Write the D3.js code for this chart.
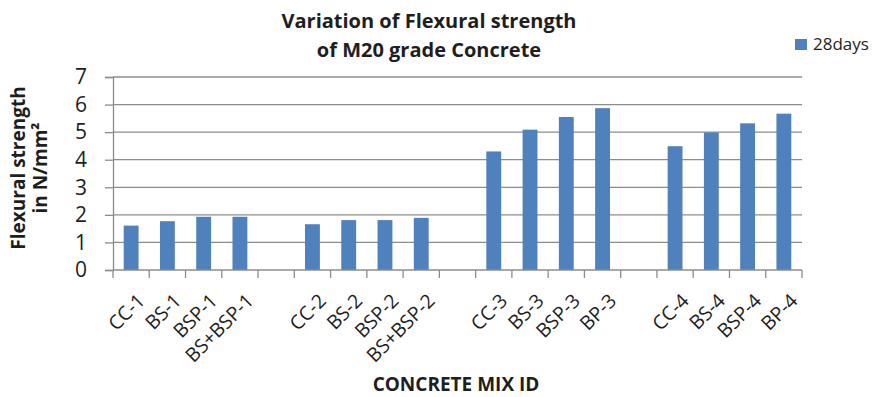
<!DOCTYPE html>
<html>
<head>
<meta charset="utf-8">
<script src="https://cdn.jsdelivr.net/npm/d3@7"></script>
<style>
  body { margin: 0; background: #fff; }
  svg { font-family: "Open Sans", "Noto Sans", sans-serif; }
</style>
</head>
<body>
<svg id="chart" width="883" height="397"></svg>
<script>
// categories along the x axis, "" = empty slot between groups
const categories = ['CC-1', 'BS-1', 'BSP-1', 'BS+BSP-1', '',
                    'CC-2', 'BS-2', 'BSP-2', 'BS+BSP-2', '',
                    'CC-3', 'BS-3', 'BSP-3', 'BP-3', '',
                    'CC-4', 'BS-4', 'BSP-4', 'BP-4'];
// 28 days flexural strength (N/mm2), null for the empty slots
const days28 = [1.61, 1.77, 1.93, 1.93, null,
                1.66, 1.81, 1.81, 1.89, null,
                4.30, 5.09, 5.55, 5.87, null,
                4.49, 4.99, 5.32, 5.67];
const yTicks = [0, 1, 2, 3, 4, 5, 6, 7];
const seriesName = '28days';

const svg = d3.select('#chart');
const margin = {left: 113, right: 81, top: 77, bottom: 127};
const W = 883, H = 397;
const barColor = '#4f81bd';
const gridColor = '#8c8c8c';
const textColor = '#1e1e1e';

let x = d3.scaleBand()
    .domain(d3.range(categories.length))
    .range([margin.left, W - margin.right])
    .paddingInner(0.59)
    .paddingOuter(0.295);
let y = d3.scaleLinear()
    .domain([0, 7])
    .range([H - margin.bottom, margin.top]);

//网格线
svg.append('g')
    .selectAll('line')
    .data(yTicks.slice(1))
    .enter()
    .append('line')
    .attr('x1', margin.left)
    .attr('x2', W - margin.right)
    .attr('y1', d => y(d))
    .attr('y2', d => y(d))
    .attr('stroke', gridColor)
    .attr('stroke-width', 1.3);

//y轴
let yAxis = svg.append('g')
    .attr('transform', `translate(${margin.left},0)`)
    .call(d3.axisLeft(y).tickValues(yTicks).tickFormat(d3.format('d')).tickSize(8).tickPadding(18));
yAxis.select('.domain').attr('stroke', gridColor).attr('stroke-width', 1.3);
yAxis.selectAll('.tick line').attr('stroke', gridColor).attr('stroke-width', 1.3);
yAxis.selectAll('.tick text')
    .attr('font-size', 21)
    .attr('fill', textColor)
    .attr('font-family', '"Open Sans", sans-serif');

//柱子
svg.append('g')
    .selectAll('rect')
    .data(days28.map((v, i) => [i, v]).filter(d => d[1] !== null))
    .enter()
    .append('rect')
    .attr('x', d => x(d[0]))
    .attr('y', d => y(d[1]))
    .attr('width', x.bandwidth())
    .attr('height', d => y(0) - y(d[1]))
    .attr('fill', barColor);

//x轴 (ticks between categories)
let step = x.step();
let x0 = x.range()[0];
svg.append('line')
    .attr('x1', margin.left).attr('x2', W - margin.right)
    .attr('y1', y(0)).attr('y2', y(0))
    .attr('stroke', gridColor).attr('stroke-width', 1.3);
svg.append('g')
    .selectAll('line')
    .data(d3.range(categories.length + 1))
    .enter()
    .append('line')
    .attr('x1', i => x0 + i * step)
    .attr('x2', i => x0 + i * step)
    .attr('y1', y(0))
    .attr('y2', y(0) + 8)
    .attr('stroke', gridColor)
    .attr('stroke-width', 1.3);

//x轴标签
svg.append('g')
    .selectAll('text')
    .data(categories.map((c, i) => [i, c]).filter(d => d[1] !== ''))
    .enter()
    .append('text')
    .attr('transform', d => `translate(${x(d[0]) + x.bandwidth() / 2 + 15},${y(0) + 32}) rotate(-45)`)
    .attr('text-anchor', 'end')
    .attr('font-size', 19.5)
    .attr('fill', textColor)
    .text(d => d[1]);

//标题
let title = svg.append('text')
    .attr('text-anchor', 'middle')
    .attr('font-size', 20)
    .attr('font-weight', 'bold')
    .attr('fill', textColor);
title.append('tspan').attr('x', 429).attr('y', 28).text('Variation of Flexural strength');
title.append('tspan').attr('x', 429).attr('y', 57).text('of M20 grade Concrete');

//y轴标题
let yTitle = svg.append('text')
    .attr('transform', 'translate(0,168) rotate(-90)')
    .attr('text-anchor', 'middle')
    .attr('font-size', 19)
    .attr('font-weight', 'bold')
    .attr('fill', textColor);
yTitle.append('tspan').attr('x', 0).attr('y', 25).text('Flexural strength');
yTitle.append('tspan').attr('x', 0).attr('y', 47).text('in N/mm²');

//x轴标题
svg.append('text')
    .attr('x', 456)
    .attr('y', 391)
    .attr('text-anchor', 'middle')
    .attr('font-size', 19)
    .attr('font-weight', 'bold')
    .attr('fill', textColor)
    .text('CONCRETE MIX ID');

//图例
svg.append('rect')
    .attr('x', 795).attr('y', 39)
    .attr('width', 12).attr('height', 11)
    .attr('fill', barColor);
svg.append('text')
    .attr('x', 813).attr('y', 50)
    .attr('font-size', 17)
    .attr('fill', textColor)
    .text(seriesName);
</script>
</body>
</html>
